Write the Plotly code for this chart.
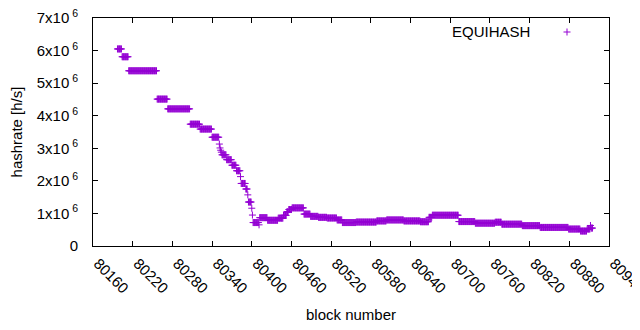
import numpy as np
import plotly.graph_objects as go

# Run-length description of the per-block hashrate
run_first_block = [80197, 80204, 80214, 80257, 80273, 80307, 80322, 80340, 80351, 80352,
                   80353, 80354, 80355, 80362, 80370, 80377, 80383, 80384, 80391, 80394,
                   80395, 80400, 80401, 80402, 80411, 80412, 80424, 80440, 80448, 80453,
                   80456, 80461, 80479, 80489, 80501, 80514, 80529, 80537, 80558, 80589,
                   80604, 80630, 80655, 80668, 80673, 80713, 80738, 80768, 80778, 80809,
                   80836, 80879, 80897, 80907, 80912, 80913]
run_last_block = [80203, 80213, 80256, 80272, 80306, 80321, 80339, 80350, 80351, 80352,
                  80353, 80354, 80361, 80369, 80376, 80382, 80383, 80390, 80393, 80394,
                  80399, 80400, 80401, 80410, 80411, 80423, 80439, 80447, 80452, 80455,
                  80460, 80478, 80488, 80500, 80513, 80528, 80536, 80557, 80588, 80603,
                  80629, 80654, 80667, 80672, 80712, 80737, 80767, 80777, 80808, 80835,
                  80878, 80896, 80906, 80911, 80912, 80915]
run_hashrate_mhs = [6.05, 5.81, 5.38, 4.51, 4.21, 3.74, 3.59, 3.34, 3.13, 3.01,
                    2.94, 2.88, 2.80, 2.65, 2.48, 2.31, 2.13, 1.92, 1.75, 1.57,
                    1.35, 1.16, 0.95, 0.72, 0.65, 0.87, 0.79, 0.855, 0.94, 1.05,
                    1.12, 1.17, 0.98, 0.91, 0.88, 0.86, 0.80, 0.72, 0.735, 0.77,
                    0.80, 0.77, 0.745, 0.88, 0.945, 0.75, 0.70, 0.73, 0.67, 0.625,
                    0.57, 0.52, 0.46, 0.52, 0.63, 0.55]

x_tick_vals = [80160, 80220, 80280, 80340, 80400, 80460, 80520, 80580, 80640,
               80700, 80760, 80820, 80880, 80940]
x_tick_text = [str(v) for v in x_tick_vals]
y_tick_vals = [0, 1e6, 2e6, 3e6, 4e6, 5e6, 6e6, 7e6]
y_tick_text = ["0", "1x10<sup> 6</sup>", "2x10<sup> 6</sup>", "3x10<sup> 6</sup>",
               "4x10<sup> 6</sup>", "5x10<sup> 6</sup>", "6x10<sup> 6</sup>", "7x10<sup> 6</sup>"]
series_name = "EQUIHASH"

blocks = np.concatenate([np.arange(a, b + 1) for a, b in zip(run_first_block, run_last_block)])
hashrate = np.concatenate([np.full(b - a + 1, v * 1e6)
                           for a, b, v in zip(run_first_block, run_last_block, run_hashrate_mhs)])

color = "#9400D3"
font = "Liberation Sans, Arial, sans-serif"
FS = 15

# the page body adds an 8px offset; size the figure so it fills the 640x330 window
OFF = 8
W, H = 640 - OFF, 330 - OFF
L, R, T, B = 93 - OFF, 31, 18 - OFF, 84
pw, ph = W - L - R, H - T - B

fig = go.Figure()
fig.add_trace(go.Scatter(
    x=blocks, y=hashrate, mode="markers", name=series_name, showlegend=False,
    marker=dict(symbol="cross-thin", size=5, color=color, line=dict(color=color, width=1)),
))

# gnuplot-style key: text then sample (screen coordinates of the key)
key_x, key_y, key_text_right = 567, 32, 532
px = (key_x - 93) / pw
py = (246 - key_y) / ph
dx, dy = 3.5 / pw, 3.5 / ph
fig.add_shape(type="line", xref="paper", yref="paper", x0=px - dx, x1=px + dx, y0=py, y1=py,
              line=dict(color=color, width=1))
fig.add_shape(type="line", xref="paper", yref="paper", x0=px, x1=px, y0=py - dy, y1=py + dy,
              line=dict(color=color, width=1))
fig.add_annotation(text=series_name, xref="paper", yref="paper", x=(key_text_right - 93) / pw, y=py,
                   xanchor="right", yanchor="middle", showarrow=False,
                   font=dict(family=font, size=FS, color="black"))

axis_common = dict(showline=True, linecolor="black", linewidth=1, mirror="ticks",
                   ticks="inside", ticklen=5, tickcolor="black", showgrid=False, zeroline=False,
                   automargin=False, ticklabeloverflow="allow",
                   tickfont=dict(family=font, size=FS, color="black"))

fig.update_layout(
    width=W, height=H,
    margin=dict(l=L, r=R, t=T, b=B, pad=0),
    paper_bgcolor="white", plot_bgcolor="white",
    font=dict(family=font, size=FS, color="black"),
    xaxis=dict(range=[80160, 80940], tickvals=x_tick_vals, ticktext=x_tick_text, tickangle=45,
               ticklabelshift=5, ticklabelstandoff=2,
               title=dict(text="block number", font=dict(family=font, size=FS), standoff=14),
               **axis_common),
    yaxis=dict(range=[0, 7e6], tickvals=y_tick_vals, ticktext=y_tick_text,
               ticklabelstandoff=11,
               title=dict(text="hashrate [h/s]", font=dict(family=font, size=FS), standoff=14),
               **axis_common),
)

fig.write_html("out.html")
